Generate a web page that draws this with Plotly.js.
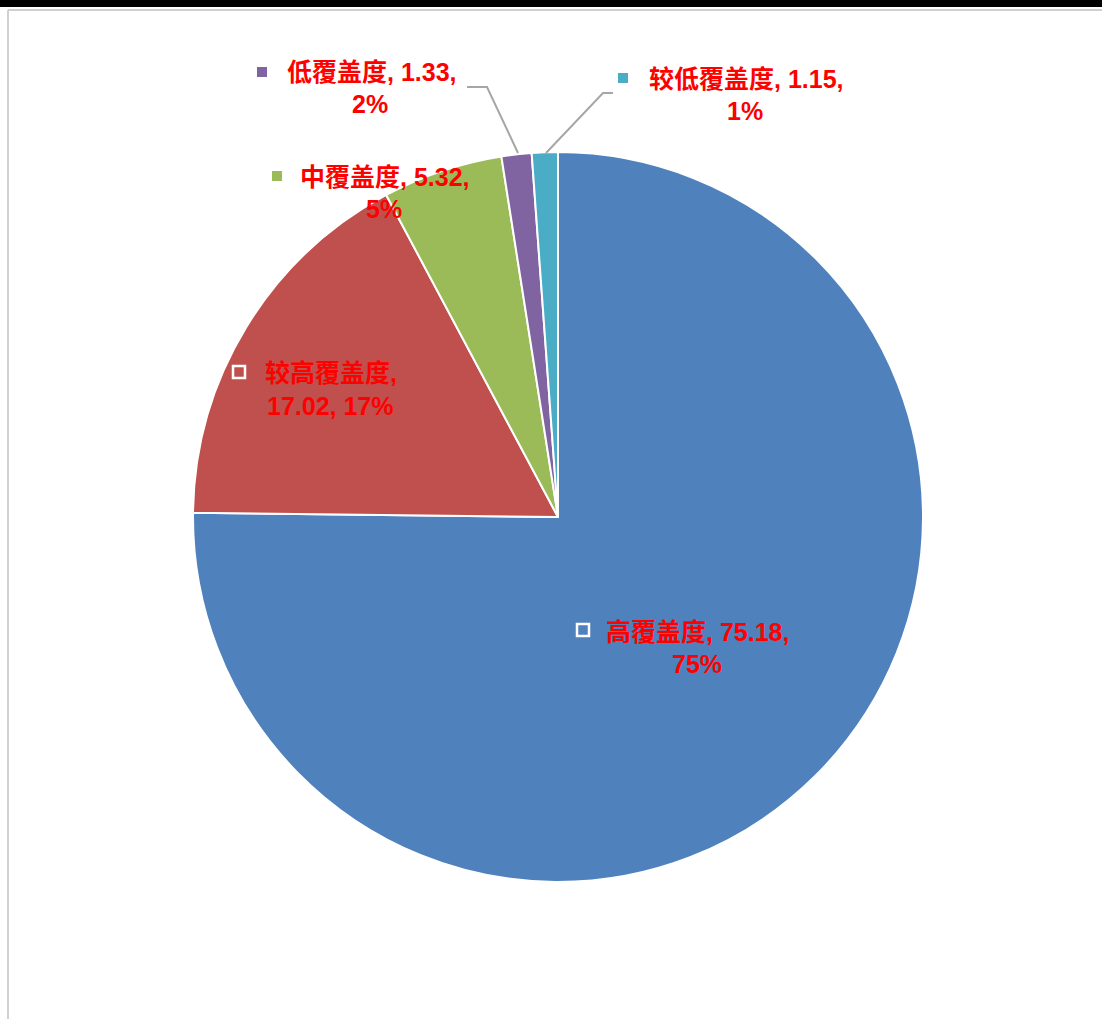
<!DOCTYPE html>
<html>
<head>
<meta charset="utf-8">
<script src="https://cdn.plot.ly/plotly-3.0.1.min.js"></script>
<style>html,body{margin:0;padding:0;background:#fff;}#chart{width:1102px;height:1019px;}</style>
</head>
<body>
<div id="chart"></div>
<script>
// ---- data ----
const categories = ["高覆盖度", "较高覆盖度", "中覆盖度", "低覆盖度", "较低覆盖度"];
const values = [75.18, 17.02, 5.32, 1.33, 1.15];
const percentLabels = ["75%", "17%", "5%", "2%", "1%"];
const colors = ["#4F81BD", "#C0504D", "#9BBB59", "#8064A2", "#4BACC6"];

// ---- label layout (pixel positions) ----
const W = 1102, H = 1019;
const px = x => x / W, py = y => 1 - y / H;
const lines = [
  [categories[0] + ", " + values[0].toFixed(2) + ",", percentLabels[0]],
  [categories[1] + ",", values[1].toFixed(2) + ", " + percentLabels[1]],
  [categories[2] + ", " + values[2].toFixed(2) + ",", percentLabels[2]],
  [categories[3] + ", " + values[3].toFixed(2) + ",", percentLabels[3]],
  [categories[4] + ", " + values[4].toFixed(2) + ",", percentLabels[4]]
];
const labelPos = [
  {l1: [697, 632], l2: [697, 664], m: [583, 630], hollow: true},
  {l1: [331, 373], l2: [330, 406], m: [239, 372], hollow: true},
  {l1: [385, 177], l2: [384, 209], m: [277, 176], hollow: false},
  {l1: [372, 72], l2: [370, 104], m: [262, 72], hollow: false},
  {l1: [746, 79], l2: [745, 111], m: [623, 78], hollow: false}
];
const font = {family: "Liberation Sans, 'Noto Sans CJK SC', sans-serif", size: 25, color: "#FF0000", weight: 700};

const annotations = [];
const shapes = [];
lines.forEach((ln, i) => {
  const p = labelPos[i];
  annotations.push({text: "<b>" + ln[0] + "</b>", x: px(p.l1[0]), y: py(p.l1[1]), xref: "paper", yref: "paper",
    xanchor: "center", yanchor: "middle", showarrow: false, font: font});
  annotations.push({text: "<b>" + ln[1] + "</b>", x: px(p.l2[0]), y: py(p.l2[1]), xref: "paper", yref: "paper",
    xanchor: "center", yanchor: "middle", showarrow: false, font: font});
  const s = p.hollow ? 6 : 5;
  shapes.push({type: "rect", xref: "paper", yref: "paper",
    x0: px(p.m[0] - s), x1: px(p.m[0] + s), y0: py(p.m[1] + s), y1: py(p.m[1] - s),
    line: {color: p.hollow ? "#FFFFFF" : colors[i], width: p.hollow ? 2.5 : 0},
    fillcolor: p.hollow ? "rgba(0,0,0,0)" : colors[i]});
});
// leader lines
const leaders = [
  [[518, 153], [487, 87], [467, 87]],
  [[546, 153], [603, 93], [613, 93]]
];
leaders.forEach(pts => {
  let path = "M " + px(pts[0][0]) + " " + py(pts[0][1]);
  for (let k = 1; k < pts.length; k++) path += " L " + px(pts[k][0]) + " " + py(pts[k][1]);
  shapes.push({type: "path", xref: "paper", yref: "paper", path: path, line: {color: "#A6A6A6", width: 2}});
});
// page frame
shapes.push({type: "rect", xref: "paper", yref: "paper", x0: 0, x1: 1, y0: py(7), y1: 1, fillcolor: "#000000", line: {width: 0}, layer: "below"});
shapes.push({type: "line", xref: "paper", yref: "paper", x0: px(8), x1: 1, y0: py(10), y1: py(10), line: {color: "#D0D0D0", width: 2}});
shapes.push({type: "line", xref: "paper", yref: "paper", x0: px(8), x1: px(8), y0: py(10), y1: 0, line: {color: "#D0D0D0", width: 2}});

const cx = 558, cy = 517, r = 365;
const trace = {
  type: "pie",
  labels: categories,
  values: values,
  marker: {colors: colors, line: {color: "#FFFFFF", width: 2}},
  sort: false,
  direction: "clockwise",
  rotation: 0,
  textinfo: "none",
  hoverinfo: "label+value+percent",
  domain: {x: [px(cx - r), px(cx + r)], y: [py(cy + r), py(cy - r)]}
};

const layout = {
  width: W, height: H,
  margin: {l: 0, r: 0, t: 0, b: 0},
  paper_bgcolor: "#FFFFFF",
  showlegend: false,
  annotations: annotations,
  shapes: shapes
};
Plotly.newPlot("chart", [trace], layout, {displayModeBar: false});
</script>
</body>
</html>
